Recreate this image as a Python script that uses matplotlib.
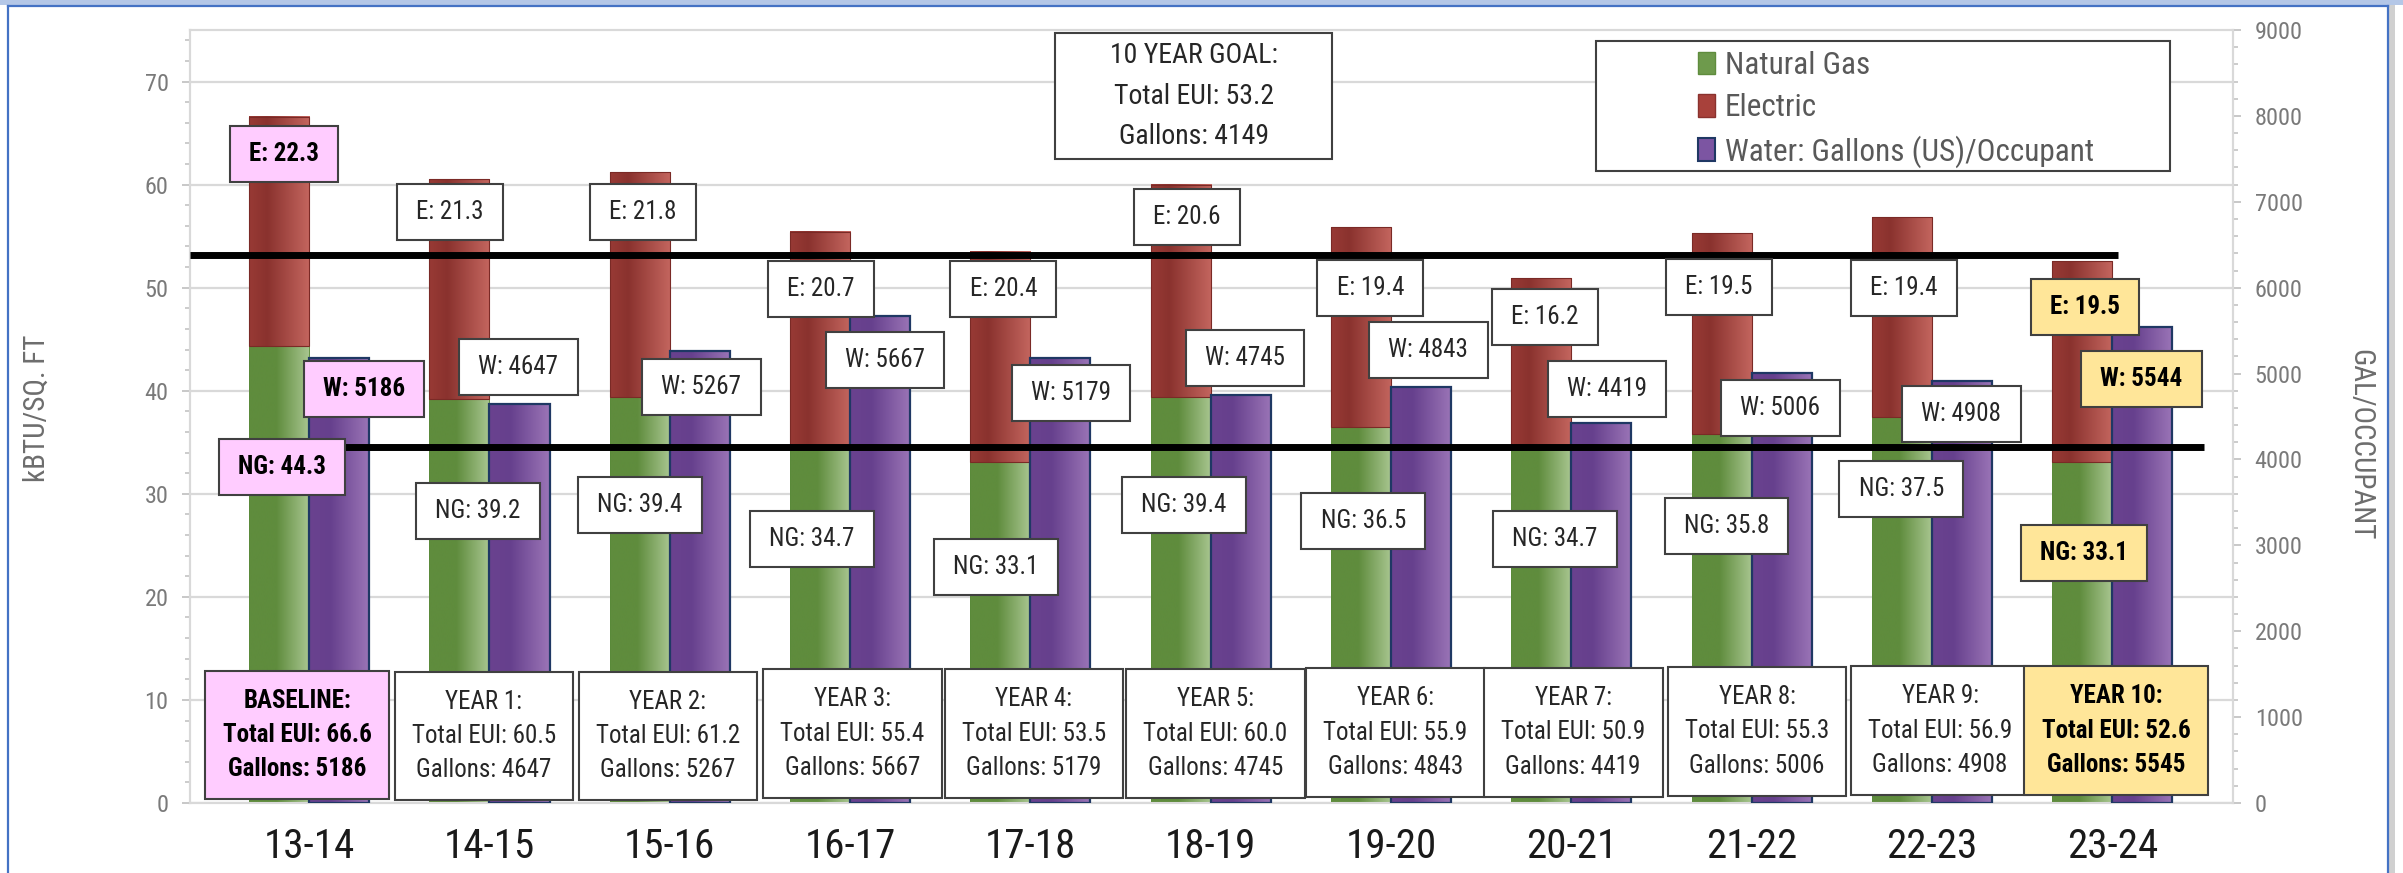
import numpy as np
import matplotlib
matplotlib.use("Agg")
import matplotlib.pyplot as plt
from matplotlib import font_manager
from matplotlib.colors import LinearSegmentedColormap
from matplotlib.patches import Rectangle, Patch
from matplotlib.lines import Line2D
from matplotlib.path import Path
from matplotlib.ticker import MultipleLocator

# ---------------------------------------------------------------- data
seasons = ["13-14", "14-15", "15-16", "16-17", "17-18", "18-19",
           "19-20", "20-21", "21-22", "22-23", "23-24"]
year_names = ["BASELINE", "YEAR 1", "YEAR 2", "YEAR 3", "YEAR 4", "YEAR 5",
              "YEAR 6", "YEAR 7", "YEAR 8", "YEAR 9", "YEAR 10"]
natural_gas = [44.3, 39.2, 39.4, 34.7, 33.1, 39.4, 36.5, 34.7, 35.8, 37.5, 33.1]
electric = [22.3, 21.3, 21.8, 20.7, 20.4, 20.6, 19.4, 16.2, 19.5, 19.4, 19.5]
water = [5186, 4647, 5267, 5667, 5179, 4745, 4843, 4419, 5006, 4908, 5544]
gallons_total = [5186, 4647, 5267, 5667, 5179, 4745, 4843, 4419, 5006, 4908, 5545]
goal_eui = 53.2
goal_gallons = 4149

# ---------------------------------------------------------------- layout
# label anchors: (offset from group centre in category units, height in kBTU units)
e_label_pos = [(-0.14, 63.0), (-0.22, 57.3), (-0.15, 57.3), (-0.16, 49.9),
               (-0.15, 49.9), (-0.13, 56.9), (-0.115, 50.0), (-0.145, 47.2),
               (-0.18, 50.1), (-0.155, 50.0), (-0.15, 48.1)]
w_label_pos = [(0.305, 40.2), (0.16, 42.3), (0.175, 40.4), (0.194, 43.0),
               (0.226, 39.8), (0.191, 43.2), (0.207, 44.0), (0.199, 40.2),
               (0.159, 38.3), (0.163, 37.7), (0.16, 41.1)]
ng_label_pos = [(-0.15, 32.6), (-0.063, 28.3), (-0.165, 28.9), (-0.21, 25.6),
                (-0.19, 22.9), (-0.147, 28.9), (-0.154, 27.4), (-0.09, 25.6),
                (-0.14, 26.9), (-0.17, 30.5), (-0.157, 24.3)]
year_box_pos = [(-0.067, 6.6), (-0.03, 6.5), (-0.01, 6.5), (0.012, 6.7),
                (0.02, 6.7), (0.025, 6.7), (0.023, 6.8), (0.01, 6.85),
                (0.03, 6.95), (0.045, 7.0), (0.02, 7.0)]
highlight = {0: "#FFCCFF", 10: "#FFE699"}

# ---------------------------------------------------------------- fonts
available = {f.name for f in font_manager.fontManager.ttflist}
SCALE = 0.8
FONT = "Lato"
for cand in ["Liberation Sans Narrow", "Arial Narrow", "Roboto Condensed"]:
    if cand in available:
        FONT, SCALE = cand, 1.0
        break
plt.rcParams["font.family"] = [FONT, "DejaVu Sans"]


def fs(pt):
    return pt * SCALE


def padded_box(px, py):
    def style(x0, y0, width, height, mutation_size):
        dx, dy = px * mutation_size, py * mutation_size
        xa, ya = x0 - dx, y0 - dy
        xb, yb = x0 + width + dx, y0 + height + dy
        return Path([(xa, ya), (xb, ya), (xb, yb), (xa, yb), (xa, ya)], closed=True)
    return style


def paint(axis, bars, stops):
    cmap = LinearSegmentedColormap.from_list("fill", stops)
    ramp = np.linspace(0, 1, 256)[None, :]
    for b in bars:
        x0, y0 = b.get_xy()
        axis.imshow(ramp, cmap=cmap, aspect="auto", interpolation="bilinear",
                    extent=(x0, x0 + b.get_width(), y0, y0 + b.get_height()),
                    zorder=b.get_zorder() - 0.05)


# ---------------------------------------------------------------- figure
fig = plt.figure(figsize=(24.03, 8.73), dpi=100)
fig.patch.set_facecolor("white")
ax = fig.add_axes([0.0791, 0.0802, 0.8502, 0.8854])
ax2 = ax.twinx()

x = np.arange(len(seasons))
bw = 1 / 3

green = ["#5f8c3d", "#5f8c3d", "#aac792"]
red = ["#983a35", "#8a322e", "#c4665f"]
purple = ["#6a428f", "#66408d", "#9b75b7"]

ng_bars = ax.bar(x - bw / 2, natural_gas, bw, facecolor="none",
                 edgecolor="#5a8a3a", linewidth=0.6, zorder=3)
e_bars = ax.bar(x - bw / 2, electric, bw, bottom=natural_gas, facecolor="none",
                edgecolor="#7a2a26", linewidth=0.8, zorder=3)
w_bars = ax2.bar(x + bw / 2, water, bw, facecolor="none",
                 edgecolor="#1f3864", linewidth=1.6, zorder=3)
paint(ax, ng_bars, [(0, green[0]), (0.45, green[1]), (1, green[2])])
paint(ax, e_bars, [(0, red[0]), (0.3, red[1]), (1, red[2])])
paint(ax2, w_bars, [(0, purple[0]), (0.35, purple[1]), (1, purple[2])])

ax.set_xlim(-0.66, 10.67)
ax2.set_xlim(-0.66, 10.67)
ax.set_ylim(0, 75)
ax2.set_ylim(0, 9000)

# axes styling
grid_c = "#d9d9d9"
tick_c = "#7a7a7a"
for a in (ax, ax2):
    for s in a.spines.values():
        s.set_color(grid_c)
        s.set_linewidth(1.5)
ax2.patch.set_visible(False)
ax.set_axisbelow(True)
ax.yaxis.grid(True, which="major", color=grid_c, linewidth=1.6)

ax.yaxis.set_major_locator(MultipleLocator(10))
ax.yaxis.set_minor_locator(MultipleLocator(2))
ax2.yaxis.set_major_locator(MultipleLocator(1000))
ax2.yaxis.set_minor_locator(MultipleLocator(200))
for a in (ax, ax2):
    a.tick_params(axis="y", which="major", length=5.5, width=1.2, color="#bfbfbf",
                  labelsize=fs(17.5), labelcolor=tick_c, pad=10)
    a.tick_params(axis="y", which="minor", length=3.6, width=1.1, color="#bfbfbf")

ax.set_xticks(x)
ax.set_xticklabels(seasons)
ax.tick_params(axis="x", length=0, pad=17, labelsize=fs(29.5), labelcolor="#1a1a1a")

ax.set_ylabel("kBTU/SQ. FT", fontsize=fs(21), color="#6d6d6d", va="center")
ax.yaxis.set_label_coords(-0.0749, 0.511)
ax2.set_ylabel("GAL/OCCUPANT", fontsize=fs(21), color="#6d6d6d",
               rotation=-90, va="center")
ax2.yaxis.set_label_coords(1.0622, 0.463)

# goal lines
ax2.add_line(Line2D([-0.66, 10.03], [goal_eui, goal_eui], color="black",
                    linewidth=5, transform=ax.transData, zorder=6,
                    solid_capstyle="butt"))
ax2.add_line(Line2D([-0.33, 10.51], [goal_gallons, goal_gallons], color="black",
                    linewidth=5, transform=ax2.transData, zorder=6,
                    solid_capstyle="butt"))

# value labels
small_box = padded_box(0.77, 0.64)
year_box = padded_box(0.69, 0.72)


def put_label(xc, yc, text, idx, style, ls=1.2):
    face = highlight.get(idx, "white")
    bold = idx in highlight
    ax2.text(xc, yc, text, transform=ax.transData, ha="center", va="center",
             multialignment="center", fontsize=fs(18),
             fontweight="bold" if bold else "normal",
             color="black" if bold else "#262626", linespacing=ls, zorder=10,
             bbox=dict(boxstyle=style, facecolor=face, edgecolor="#404040",
                       linewidth=1.5))


for i in range(len(seasons)):
    dx, yy = e_label_pos[i]
    put_label(x[i] + dx, yy, f"E: {electric[i]:.1f}", i, small_box)
    dx, yy = w_label_pos[i]
    put_label(x[i] + dx, yy, f"W: {water[i]}", i, small_box)
    dx, yy = ng_label_pos[i]
    put_label(x[i] + dx, yy, f"NG: {natural_gas[i]:.1f}", i, small_box)
    dx, yy = year_box_pos[i]
    total = natural_gas[i] + electric[i]
    put_label(x[i] + dx, yy,
              f"{year_names[i]}:\nTotal EUI: {total:.1f}\nGallons: {gallons_total[i]}",
              i, year_box, ls=1.55)

# goal summary box
ax2.add_patch(Rectangle((0.4234, 0.8331), 0.1356, 0.1630, transform=ax.transAxes,
                        facecolor="white", edgecolor="#404040", linewidth=1.5,
                        zorder=8, clip_on=False))
ax2.text(0.4912, 0.9146,
         f"10 YEAR GOAL:\nTotal EUI: {goal_eui}\nGallons: {goal_gallons}",
         transform=ax.transAxes, ha="center", va="center", multialignment="center",
         fontsize=fs(20), color="#262626", linespacing=1.64, zorder=9)

# legend
ax2.add_patch(Rectangle((0.6882, 0.8176), 0.2810, 0.1682, transform=ax.transAxes,
                        facecolor="white", edgecolor="#404040", linewidth=1.5,
                        zorder=4.5, clip_on=False))
handles = [Patch(facecolor="#6e9a4c", edgecolor="#5f8c3d", label="Natural Gas"),
           Patch(facecolor="#a8413b", edgecolor="#8a322e", label="Electric"),
           Patch(facecolor="#7c55a2", edgecolor="#1f3864", linewidth=1.5,
                 label="Water: Gallons (US)/Occupant")]
leg = ax2.legend(handles=handles, loc="upper left", bbox_to_anchor=(0.7381, 0.973),
                 bbox_transform=ax.transAxes, frameon=False, fontsize=fs(22.5),
                 handlelength=0.55, handleheight=0.75, handletextpad=0.3,
                 labelspacing=0.42, borderpad=0, borderaxespad=0)
for t in leg.get_texts():
    t.set_color("#595959")
leg.set_zorder(9)

# window frame
fig.add_artist(Rectangle((0, 868 / 873), 1, 5 / 873, transform=fig.transFigure,
                         facecolor="#b4c7e7", edgecolor="none"))
fig.add_artist(Rectangle((2389 / 2403, 0), 6 / 2403, 868 / 873,
                         transform=fig.transFigure, facecolor="#d0d0d0",
                         edgecolor="none"))
frame_kw = dict(color="#4472c4", linewidth=1.6, transform=fig.transFigure)
fig.add_artist(Line2D([8 / 2403, 2388 / 2403], [867.5 / 873, 867.5 / 873], **frame_kw))
fig.add_artist(Line2D([8 / 2403, 8 / 2403], [0, 867.5 / 873], **frame_kw))
fig.add_artist(Line2D([2388 / 2403, 2388 / 2403], [0, 867.5 / 873], **frame_kw))

fig.savefig("out.png", dpi=100, facecolor="white")
